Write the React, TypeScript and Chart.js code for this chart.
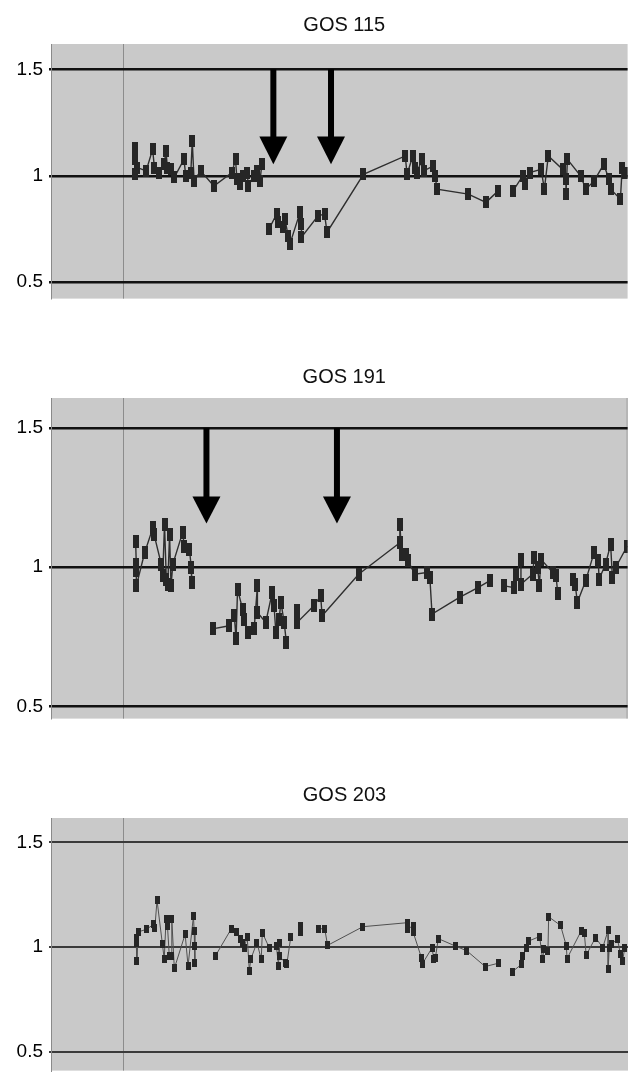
import React, { useEffect, useRef } from 'react';
import { Chart, registerables } from 'chart.js';

Chart.register(...registerables);

const FONT = '"Liberation Sans", Arial, Helvetica, sans-serif';

// ---------- data ----------
const yTicks = [0.5, 1, 1.5];
const dividerX = 20;

const gos115Title = 'GOS 115';
const gos115X = [23.4, 23.4, 23.4, 24.0, 26.4, 28.2, 28.7, 30.0, 31.4, 31.9, 32.3, 33.2, 34.2, 36.9, 37.4, 38.8, 39.2, 39.7, 41.5, 45.2, 50.2, 51.2, 51.6, 52.5, 53.4, 54.4, 54.8, 56.2, 57.1, 58.0, 58.5, 59.5, 60.5, 62.6, 63.1, 64.5, 64.9, 65.8, 66.3, 69.1, 69.5, 69.5, 74.1, 75.9, 76.6, 86.7, 98.3, 98.8, 100.4, 100.9, 101.6, 102.9, 103.4, 106.1, 106.6, 107.1, 115.8, 120.7, 124.1, 126, 128.2, 130.9, 131.4, 132.8, 136.0, 136.9, 138.0, 142.0, 142.9, 142.9, 143.3, 147.0, 148.4, 150.7, 153.4, 154.8, 155.3, 158.0, 158.5, 159.4];
const gos115Y = [1.132, 1.077, 1.007, 1.038, 1.023, 1.124, 1.038, 1.015, 1.054, 1.116, 1.038, 1.030, 0.992, 1.077, 0.999, 1.015, 1.163, 0.976, 1.023, 0.952, 1.015, 1.077, 0.984, 0.960, 0.999, 1.015, 0.952, 0.999, 1.023, 0.976, 1.054, null, 0.750, 0.820, 0.781, 0.758, 0.797, 0.719, 0.680, 0.828, 0.773, 0.711, 0.812, 0.820, 0.735, 1.007, 1.093, 1.007, 1.093, 1.038, 1.015, 1.077, 1.023, 1.046, 0.999, 0.937, 0.914, 0.875, 0.929, null, 0.929, 0.999, 0.960, 1.015, 1.030, 0.937, 1.093, 1.030, 0.984, 0.914, 1.077, 0.999, 0.937, 0.976, 1.054, 0.984, 0.937, 0.890, 1.038, 1.015];
const gos115ArrowX = [61.7, 77.7];
const gos115ArrowHead = 1.185;
const gos115ArrowTip = 1.054;

const gos191Title = 'GOS 191';
const gos191X = [23.4, 23.6, 23.6, 23.6, 25.9, 28.2, 28.5, 30.5, 30.9, 31.4, 31.9, 32.3, 32.8, 33.2, 33.7, 36.4, 36.9, 38.3, 38.8, 38.9, 41, 44.7, 49.3, 50.7, 51.2, 51.6, 53.0, 53.4, 54.4, 56.2, 57.1, 57.1, 59.4, 61.2, 61.7, 62.2, 63.1, 63.6, 64.5, 65.1, 66.5, 68.0, 68.1, 72.7, 74.6, 75.0, 85.1, 96.5, 96.5, 97.0, 98.3, 98.8, 100.6, 103.9, 104.8, 105.4, 113.0, 118.1, 121.3, 123.5, 125.4, 128.2, 128.7, 130.0, 130.0, 133.2, 133.7, 134.6, 135.1, 135.5, 138.8, 139.7, 140.2, 142, 144.3, 145.0, 145.6, 147.9, 150.2, 151.4, 151.6, 153.4, 154.8, 155.3, 156.2, 159.4];
const gos191Y = [1.094, 1.011, 0.987, 0.933, 1.052, 1.142, 1.118, 1.011, 0.969, 1.154, 0.957, 0.939, 1.118, 0.933, 1.011, 1.124, 1.076, 1.064, 0.999, 0.945, null, 0.779, 0.790, 0.826, 0.743, 0.921, 0.850, 0.814, 0.767, 0.779, 0.933, 0.838, 0.802, 0.910, 0.862, 0.767, 0.814, 0.874, 0.802, 0.731, null, 0.844, 0.802, 0.862, 0.897, 0.826, 0.975, 1.088, 1.154, 1.046, 1.046, 1.023, 0.975, 0.981, 0.963, 0.832, 0.892, 0.927, 0.951, null, 0.933, 0.927, 0.975, 1.029, 0.939, 0.975, 1.035, 0.999, 0.933, 1.029, 0.981, 0.969, 0.904, null, 0.957, 0.939, 0.874, 0.951, 1.052, 1.023, 0.957, 1.011, 1.082, 0.963, 0.999, 1.076];
const gos191ArrowX = [43.0, 79.1];
const gos191ArrowHead = 1.254;
const gos191ArrowTip = 1.157;

const gos203Title = 'GOS 203';
const gos203X = [23.6, 23.8, 23.8, 24.2, 26.4, 28.5, 28.8, 29.4, 30.9, 31.4, 31.9, 32.3, 32.8, 33.4, 33.5, 34.2, 37.2, 38.0, 39.5, 39.7, 39.9, 39.9, 42, 45.6, 50.0, 51.4, 52.5, 53.0, 53.6, 54.4, 55.0, 55.4, 57.1, 58.3, 58.6, 60.6, 62.5, 63.1, 63.3, 63.3, 64.9, 65.4, 66.5, 68, 69.2, 69.2, 72, 74.1, 75.9, 76.7, 86.5, 98.8, 98.8, 100.4, 100.4, 102.7, 102.9, 105.7, 106.1, 106.6, 107.4, 112.1, 115.3, 120.4, 124.1, 126, 127.9, 130.5, 130.8, 131.9, 132.5, 135.5, 136.3, 136.7, 137.8, 138.0, 141.3, 142.9, 143.1, 147.0, 147.9, 148.4, 151.0, 153.0, 154.5, 154.5, 154.8, 155.3, 157.1, 157.9, 158.5, 159.1];
const gos203Y = [1.046, 1.022, 0.935, 1.073, 1.085, 1.109, 1.093, 1.224, 1.014, 0.943, 1.133, 1.101, 0.959, 0.959, 1.133, 0.899, 1.062, 0.911, 1.148, 1.077, 1.006, 0.927, null, 0.959, 1.088, 1.073, 1.041, 1.022, 0.998, 1.051, 0.888, 0.943, 1.022, 0.943, 1.070, 0.994, 1.006, 0.911, 1.022, 0.959, 0.927, 0.919, 1.051, null, 1.072, 1.100, null, 1.088, 1.088, 1.009, 1.098, 1.117, 1.088, 1.101, 1.073, 0.951, 0.919, 0.998, 0.943, 0.951, 1.041, 1.006, 0.983, 0.908, 0.924, null, 0.883, 0.919, 0.956, 0.998, 1.030, 1.051, 0.943, 0.991, 0.983, 1.145, 1.104, 1.006, 0.946, 1.077, 1.066, 0.962, 1.046, 0.998, 1.082, 0.896, 0.998, 1.014, 1.038, 0.967, 0.935, 0.998];

// ---------- layout / style per panel ----------
const PANELS = [
  {
    title: gos115Title, xs: gos115X, ys: gos115Y,
    arrowsX: gos115ArrowX, arrowHead: gos115ArrowHead, arrowTip: gos115ArrowTip,
    yMin: 0.423, yMax: 1.619, xMax: 160,
    top: 0, height: 316, padTop: 44, padRight: 0,
    markerW: 6, markerH: 12, gridColor: '#111111', gridWidth: 2.5,
    lineColor: '#2e2e2e', lineWidth: 1.4, titleOffset: 19, rightBorder: false,
  },
  {
    title: gos191Title, xs: gos191X, ys: gos191Y,
    arrowsX: gos191ArrowX, arrowHead: gos191ArrowHead, arrowTip: gos191ArrowTip,
    yMin: 0.457, yMax: 1.607, xMax: 159.5,
    top: 355, height: 381, padTop: 43, padRight: 2,
    markerW: 6, markerH: 13, gridColor: '#111111', gridWidth: 2.5,
    lineColor: '#2e2e2e', lineWidth: 1.4, titleOffset: 21, rightBorder: true,
  },
  {
    title: gos203Title, xs: gos203X, ys: gos203Y,
    arrowsX: [] as number[], arrowHead: 0, arrowTip: 0,
    yMin: 0.412, yMax: 1.616, xMax: 160,
    top: 770, height: 318, padTop: 48, padRight: 0,
    markerW: 5, markerH: 8, gridColor: '#3a3a3a', gridWidth: 2,
    lineColor: '#505050', lineWidth: 1, titleOffset: 23, rightBorder: false,
  },
];

function makeMarker(w: number, h: number, color: string) {
  const c = document.createElement('canvas');
  c.width = w;
  c.height = h;
  const ctx = c.getContext('2d')!;
  ctx.fillStyle = color;
  ctx.fillRect(0, 0, w, h);
  return c;
}

const decoPlugin = {
  id: 'panelDeco',
  beforeDraw(chart: any, _args: any, opts: any) {
    const { ctx, chartArea: a, scales } = chart;
    const x = scales.x;
    ctx.save();
    ctx.fillStyle = '#c9c9c9';
    ctx.fillRect(a.left, a.top, a.right - a.left, a.bottom - a.top);
    const dx = Math.round(x.getPixelForValue(opts.dividerX)) + 0.5;
    ctx.strokeStyle = '#8c8c8c';
    ctx.lineWidth = 1;
    ctx.beginPath();
    ctx.moveTo(dx, a.top);
    ctx.lineTo(dx, a.bottom);
    ctx.stroke();
    if (opts.rightBorder) {
      ctx.strokeStyle = '#9a9a9a';
      ctx.beginPath();
      ctx.moveTo(a.right - 0.5, a.top);
      ctx.lineTo(a.right - 0.5, a.bottom);
      ctx.stroke();
    }
    ctx.fillStyle = '#111';
    ctx.font = `20px ${FONT}`;
    ctx.textAlign = 'center';
    ctx.textBaseline = 'middle';
    ctx.fillText(opts.title, (a.left + a.right) / 2 + 5, a.top - opts.titleOffset);
    ctx.restore();
  },
  afterDatasetsDraw(chart: any, _args: any, opts: any) {
    const { ctx, scales } = chart;
    const x = scales.x;
    const y = scales.y;
    ctx.save();
    ctx.fillStyle = '#000';
    for (const ax of opts.arrowsX) {
      const px = x.getPixelForValue(ax);
      const yTop = y.getPixelForValue(1.5);
      const yHead = y.getPixelForValue(opts.arrowHead);
      const yTip = y.getPixelForValue(opts.arrowTip);
      ctx.fillRect(px - 3, yTop, 6, yHead - yTop + 1);
      ctx.beginPath();
      ctx.moveTo(px - 14, yHead);
      ctx.lineTo(px + 14, yHead);
      ctx.lineTo(px, yTip);
      ctx.closePath();
      ctx.fill();
    }
    ctx.restore();
  },
};

function Panel({ cfg }: { cfg: (typeof PANELS)[number] }) {
  const ref = useRef<HTMLCanvasElement | null>(null);
  useEffect(() => {
    if (!ref.current) return;
    const marker = makeMarker(cfg.markerW, cfg.markerH, '#262626');
    const data = cfg.xs.map((xv, i) => ({ x: xv, y: cfg.ys[i] }));
    const chart = new Chart(ref.current, {
      type: 'scatter',
      data: {
        datasets: [
          {
            data: data as any,
            showLine: true,
            spanGaps: false,
            borderColor: cfg.lineColor,
            borderWidth: cfg.lineWidth,
            pointStyle: marker as any,
            pointRadius: 3,
            pointHoverRadius: 3,
          } as any,
        ],
      },
      options: {
        animation: false,
        responsive: false,
        maintainAspectRatio: false,
        events: [],
        layout: { padding: { top: cfg.padTop, right: cfg.padRight, bottom: 16, left: 0 } },
        plugins: {
          legend: { display: false },
          tooltip: { enabled: false },
          title: { display: false },
          panelDeco: {
            title: cfg.title,
            dividerX,
            arrowsX: cfg.arrowsX,
            arrowHead: cfg.arrowHead,
            arrowTip: cfg.arrowTip,
            titleOffset: cfg.titleOffset,
            rightBorder: cfg.rightBorder,
          },
        } as any,
        scales: {
          x: { type: 'linear', min: 0, max: cfg.xMax, display: false, ticks: { display: false } },
          y: {
            type: 'linear',
            min: cfg.yMin,
            max: cfg.yMax,
            afterBuildTicks: (scale: any) => {
              scale.ticks = yTicks.map((v) => ({ value: v }));
            },
            afterFit: (scale: any) => {
              scale.width = 51;
            },
            ticks: {
              font: { family: FONT, size: 19 },
              color: '#000',
              padding: 6,
              callback: (v: any) => String(v),
            },
            grid: {
              color: cfg.gridColor,
              lineWidth: cfg.gridWidth,
              tickLength: 2,
              drawTicks: true,
            },
            border: { display: true, color: '#8a8a8a', width: 1 },
          },
        },
      },
      plugins: [decoPlugin as any],
    });
    return () => chart.destroy();
  }, [cfg]);
  return (
    <canvas
      ref={ref}
      width={632}
      height={cfg.height}
      style={{ position: 'absolute', left: 0, top: cfg.top, width: 632, height: cfg.height }}
    />
  );
}

export default function App() {
  return (
    <div
      style={{
        position: 'fixed',
        left: 0,
        top: 0,
        width: 632,
        height: 1072,
        overflow: 'hidden',
        background: '#ffffff',
      }}
    >
      {PANELS.map((p) => (
        <Panel key={p.title} cfg={p} />
      ))}
    </div>
  );
}
